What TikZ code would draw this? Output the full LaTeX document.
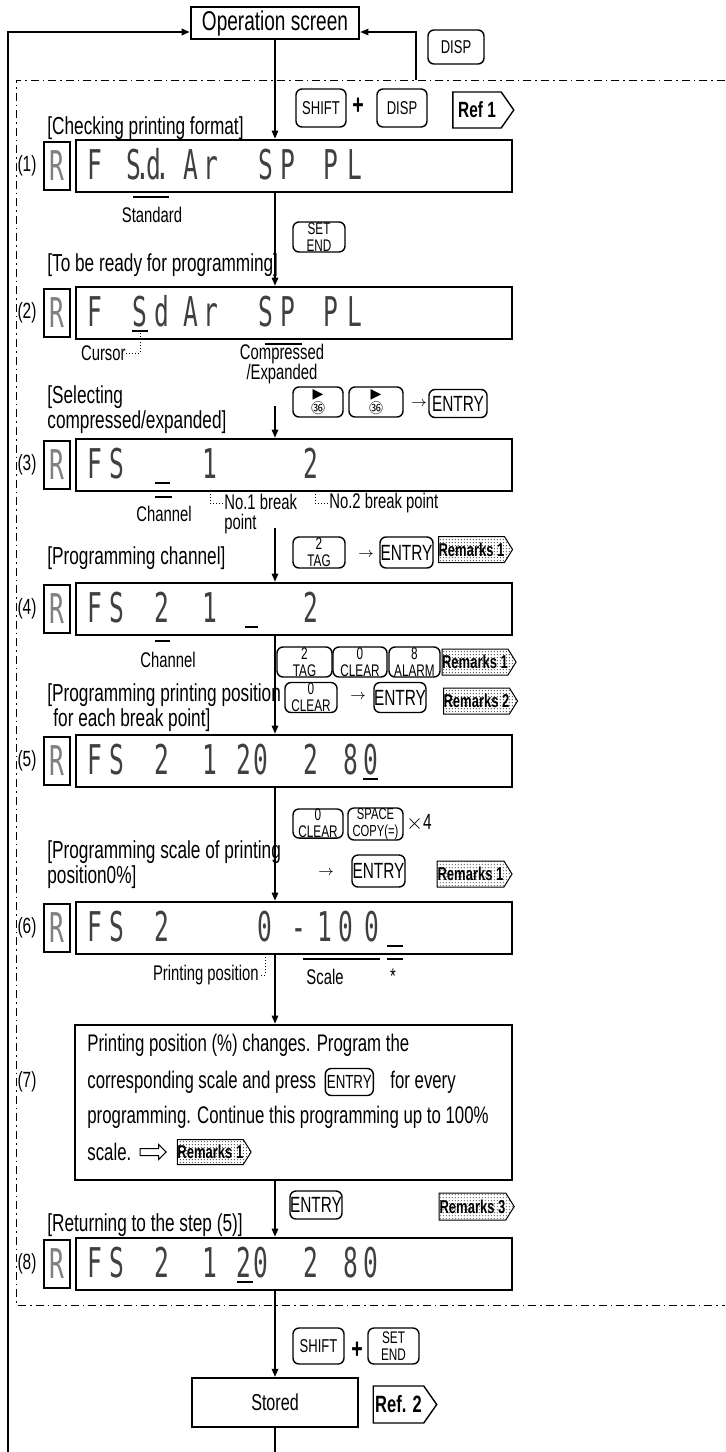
\documentclass[tikz,border=0pt]{standalone}
\usepackage{fontspec}
\setmainfont{Liberation Sans}[FakeStretch=0.7]
\newfontfamily\segfont{DejaVu Sans Mono}[FakeStretch=0.6]
\newfontfamily\symfont{DejaVu Sans}
\newfontfamily\cjk{Noto Sans CJK SC}
\usetikzlibrary{positioning,arrows.meta,shapes.symbols,shapes.arrows,patterns.meta}
\newcommand\fsz[1]{\fontsize{#1}{#1}\selectfont}
\tikzdeclarepattern{
  name=remdots,
  type=uncolored,
  bottom left={(0pt,0pt)},
  top right={(1.4pt,1.4pt)},
  tile size={(1.4pt,1.4pt)},
  code={\pgfpathcircle{\pgfpoint{0.7pt}{0.7pt}}{0.32pt}\pgfusepath{fill}}
}

\begin{document}
\begin{tikzpicture}[
    x=0.5pt, y=-0.5pt,
    flow/.style={line width=0.8pt, -{Triangle[length=4pt,width=3.2pt]}},
    opbox/.style={draw, line width=1.3pt, inner sep=0pt, font=\fsz{13.6}},
    lcdbox/.style={draw, line width=1.3pt, minimum width=218pt, minimum height=26pt},
    rbox/.style={draw, line width=0.6pt, minimum width=13pt, minimum height=24pt, inner sep=0pt, font=\segfont\fsz{20.5}, text=black!50},
    segch/.style={font=\segfont\fsz{20.5}, inner sep=0pt, anchor=base, text=black!75},
    keybox/.style={draw, rounded corners=3pt, line width=0.7pt, inner sep=0pt, align=center, font=\fsz{9.3}},
    twokey/.style={keybox, font=\fontsize{8.4}{8.6}\selectfont},
    entrykey/.style={keybox, font=\fsz{11}},
    thinarrow/.style={inner sep=0pt, font=\fsz{7.5}},
    refbox/.style={draw, signal, signal to=east, signal pointer angle=110, line width=0.7pt, inner sep=1pt, font=\bfseries\fsz{11}},
    rembox/.style={draw, signal, signal to=east, signal pointer angle=116, line width=0.5pt, inner sep=0pt, pattern=remdots, pattern color=black!70, minimum height=13pt, font=\bfseries\fsz{9.3}},
    steplbl/.style={anchor=west, align=left, inner sep=0pt, font=\fontsize{12.3}{12.5}\selectfont},
    numlbl/.style={font=\fsz{11}},
    smalllbl/.style={inner sep=0pt, align=center, font=\fontsize{10.6}{10}\selectfont},
    b7txt/.style={anchor=west, inner sep=0pt, font=\fsz{12}},
    barline/.style={line width=1.1pt},
    cursorbar/.style={line width=1.3pt},
    leader/.style={densely dotted, line width=0.5pt},
    frame/.style={line width=0.5pt, dash pattern=on 4pt off 2pt on 0.8pt off 2pt},
]
\useasboundingbox (0,0) rectangle (725,1452);

% top: operation screen and return paths
\node[opbox, minimum width=84pt, minimum height=16pt] (op) at (275,23) {Operation screen};
\node[keybox, minimum width=28pt, minimum height=17pt] (kdisp0) at (456,47) {DISP};
\coordinate (dispret) at (416,80);
\coordinate (loopbl) at (8,1452);
\draw[flow, line width=0.6pt] (dispret) |- ([yshift=-4.5pt]op.east);
\draw[flow, line width=1.3pt] (loopbl) |- ([yshift=-4.5pt]op.west);
\draw[frame] (725,80) -- (16,80) -- (16,1305) -- (725,1305);

% (1)
\node[keybox, minimum width=25pt, minimum height=19pt] (kshift1) at (321,108) {SHIFT};
\node[font=\bfseries\fsz{14}] (plus1) at (358,106) {+};
\node[keybox, minimum width=25pt, minimum height=19pt] (kdisp1) at (402,108) {DISP};
\node[refbox, minimum width=30.5pt, minimum height=18pt] (ref1) at (477,110) {Ref 1};
\node[steplbl] (t1) at (47,128) {[Checking printing format]};
\node[numlbl] (n1) at (27,166) {(1)};
\node[rbox] (r1) at (57,166) {R};
\node[lcdbox] (d1) at (294,166) {};
\foreach \cx/\ch [count=\i] in {95/F,134/S,143/.,154/d,163/.,191/A,211/r,266/S,288/P,331/P,355/L}
    \node[segch] (d1c\i) at (\cx,179) {\ch};
\draw[barline] (133,197) -- (169,197);
\node[smalllbl] (std) at (152,215) {Standard};
\draw[flow] (op.south) -- (op.south |- d1.north);

% (2)
\node[twokey, minimum width=26pt, minimum height=15pt] (kset2) at (319,237) {SET\\END};
\node[steplbl] (t2) at (47,265) {[To be ready for programming]};
\node[numlbl] (n2) at (27,313) {(2)};
\node[rbox] (r2) at (57,313) {R};
\node[lcdbox] (d2) at (294,313) {};
\foreach \cx/\ch [count=\i] in {95/F,140/S,162/d,191/A,211/r,266/S,288/P,331/P,355/L}
    \node[segch] (d2c\i) at (\cx,326) {\ch};
\draw[cursorbar] (132,331) -- (148,331);
\coordinate (cur2) at (140,333);
\node[smalllbl, anchor=east] (curlbl) at (126,353) {Cursor};
\draw[leader] (cur2) |- (curlbl.east);
\draw[barline] (265,344) -- (302,344);
\node[smalllbl] (cmp) at (282,364) {Compressed\\/Expanded};
\draw[flow] (op.south |- d1.south) -- (op.south |- d2.north);

% (3)
\node[steplbl] (t3) at (47,410) {[Selecting\\compressed/expanded]};
\node[keybox, minimum width=25pt, minimum height=15pt, font=\fontsize{7}{7.8}\selectfont] (k36a) at (318,402) {{\symfont ▶}\\{\cjk ㊱}};
\node[keybox, minimum width=27pt, minimum height=15pt, font=\fontsize{7}{7.8}\selectfont] (k36b) at (376,402) {{\symfont ▶}\\{\cjk ㊱}};
\node[thinarrow] (ar3) at (419,404) {$\rightarrow$};
\node[entrykey, minimum width=29pt, minimum height=14pt] (ke3) at (458,403.5) {ENTRY};
\node[numlbl] (n3) at (27,465) {(3)};
\node[rbox] (r3) at (57,465) {R};
\node[lcdbox] (d3) at (294,465) {};
\coordinate (c3) at (275,406);
\draw[flow] (c3) -- (c3 |- d3.north);
\foreach \cx/\ch [count=\i] in {95/F,117/S,210/1,311/2}
    \node[segch] (d3c\i) at (\cx,478) {\ch};
\draw[cursorbar] (155,483) -- (170,483);
\draw[barline] (155,497) -- (172,497);
\node[smalllbl] (ch3) at (164,514) {Channel};
\coordinate (bp1) at (210,491);
\coordinate (bp2) at (315,491);
\node[smalllbl, anchor=west, align=left] (bp1lbl) at (224,514) {No.1 break\\point};
\node[smalllbl, anchor=west] (bp2lbl) at (329,503) {No.2 break point};
\draw[leader] (bp1) |- ([yshift=5.5pt]bp1lbl.west);
\draw[leader] (bp2) |- (bp2lbl.west);

% (4)
\node[twokey, minimum width=26pt, minimum height=15.5pt] (kt4) at (319,552.5) {2\\TAG};
\node[thinarrow] (ar4) at (366,555) {$\rightarrow$};
\node[entrykey, minimum width=26.5pt, minimum height=15.5pt] (ke4) at (406.5,552.5) {ENTRY};
\node[rembox, minimum width=36.5pt] (rem4) at (471.5,549.5) {Remarks 1};
\node[steplbl] (t4) at (47,558) {[Programming channel]};
\node[numlbl] (n4) at (27,609) {(4)};
\node[rbox] (r4) at (57,609) {R};
\node[lcdbox] (d4) at (294,609) {};
\coordinate (c4) at (275,528);
\draw[flow] (c4) -- (c4 |- d4.north);
\foreach \cx/\ch [count=\i] in {95/F,117/S,162/2,210/1,311/2}
    \node[segch] (d4c\i) at (\cx,622) {\ch};
\draw[cursorbar] (245,627) -- (258,627);
\draw[barline] (155,641) -- (170,641);
\node[smalllbl] (ch4) at (168,660) {Channel};

% (5)
\node[twokey, minimum width=27.5pt, minimum height=15pt] (kt5) at (304.5,662) {2\\TAG};
\node[twokey, minimum width=27pt, minimum height=15pt] (kc5) at (360,662) {0\\CLEAR};
\node[twokey, minimum width=25.5pt, minimum height=15pt] (ka5) at (414.5,662) {8\\ALARM};
\node[rembox, minimum width=33pt] (rem5a) at (475,662) {Remarks 1};
\node[twokey, minimum width=26pt, minimum height=15pt] (kc5b) at (311,697.5) {0\\CLEAR};
\node[thinarrow] (ar5) at (358,697) {$\rightarrow$};
\node[entrykey, minimum width=25pt, minimum height=15pt] (ke5) at (400,697.5) {ENTRY};
\node[rembox, minimum width=33.5pt] (rem5b) at (476.5,701) {Remarks 2};
\node[steplbl] (t5) at (47,707.5) {[Programming printing position\\\hspace*{3pt}for each break point]};
\node[numlbl] (n5) at (27,761) {(5)};
\node[rbox] (r5) at (57,761) {R};
\node[lcdbox] (d5) at (294,761) {};
\draw[flow] (op.south |- d4.south) -- (op.south |- d5.north);
\foreach \cx/\ch [count=\i] in {95/F,117/S,162/2,210/1,244/2,261/0,311/2,351/8,371/0}
    \node[segch] (d5c\i) at (\cx,774) {\ch};
\draw[cursorbar] (363,779) -- (378,779);

% (6)
\node[twokey, minimum width=25pt, minimum height=14pt] (kc6) at (318,823.5) {0\\CLEAR};
\node[twokey, minimum width=27.5pt, minimum height=16pt, font=\fontsize{8}{8.4}\selectfont] (ks6) at (375.5,824) {SPACE\\COPY(=)};
\node[font=\fsz{11}] (x4) at (419,823) {$\times$4};
\node[thinarrow] (ar6) at (326,873) {$\rightarrow$};
\node[entrykey, minimum width=26.5pt, minimum height=16pt] (ke6) at (378.5,871) {ENTRY};
\node[rembox, minimum width=37.5pt] (rem6) at (470.5,874) {Remarks 1};
\node[steplbl] (t6) at (47,864.5) {[Programming scale of printing\\position0\%]};
\node[numlbl] (n6) at (27,928) {(6)};
\node[rbox] (r6) at (57,928) {R};
\node[lcdbox] (d6) at (294,928) {};
\draw[flow] (op.south |- d5.south) -- (op.south |- d6.north);
\foreach \cx/\ch [count=\i] in {95/F,117/S,162/2,265/0,299/-,325/1,346/0,372/0}
    \node[segch] (d6c\i) at (\cx,941) {\ch};
\draw[cursorbar] (387,946) -- (403,946);
\coordinate (pp6) at (265,954);
\node[smalllbl, anchor=east] (pplbl) at (259,975) {Printing position};
\draw[leader] (pp6) |- (pplbl.east);
\draw[barline] (303,959) -- (380,959);
\node[smalllbl] (scl) at (325,977) {Scale};
\draw[barline] (387,959) -- (403,959);
\node[smalllbl] (star6) at (393,976) {*};

% (7)
\node[draw, line width=1.3pt, minimum width=218.5pt, minimum height=77.5pt] (b7) at (293.5,1102.5) {};
\draw[flow] (op.south |- d6.south) -- (op.south |- b7.north);
\node[numlbl] (n7) at (27,1082) {(7)};
\node[b7txt] (l1) at (87,1045) {Printing position (\%) changes. Program the};
\node[b7txt] (l2a) at (87,1082) {corresponding scale and press};
\node[entrykey, minimum width=24pt, minimum height=13.5pt, font=\fsz{9.5}, right=4pt of l2a] (ke7) {ENTRY};
\node[b7txt, right=8pt of ke7] (l2b) {for every};
\node[b7txt] (l3) at (87,1117) {programming. Continue this programming up to 100\%};
\node[b7txt] (l4a) at (87,1152) {scale.};
\node[single arrow, draw, line width=0.5pt, fill=white, minimum height=13pt, minimum width=7pt, single arrow head extend=2pt, inner sep=1.5pt, right=4pt of l4a] (arr7) {};
\node[rembox, minimum width=35.5pt, minimum height=12.5pt, right=5pt of arr7] (rem7) {Remarks 1};

% (8)
\node[entrykey, minimum width=26pt, minimum height=14pt] (ke8) at (316,1205) {ENTRY};
\node[rembox, minimum width=37.5pt, minimum height=13.5pt] (rem8) at (472.5,1206.5) {Remarks 3};
\node[steplbl] (t8) at (47,1225) {[Returning to the step (5)]};
\node[numlbl] (n8) at (27,1264) {(8)};
\node[rbox] (r8) at (57,1264) {R};
\node[lcdbox] (d8) at (294,1264) {};
\draw[flow] (op.south |- b7.south) -- (op.south |- d8.north);
\foreach \cx/\ch [count=\i] in {95/F,117/S,162/2,210/1,244/2,261/0,311/2,351/8,371/0}
    \node[segch] (d8c\i) at (\cx,1277) {\ch};
\draw[cursorbar] (237,1282) -- (253,1282);

% store
\node[keybox, minimum width=25.5pt, minimum height=18pt] (ks9) at (318.5,1346) {SHIFT};
\node[font=\bfseries\fsz{14}] (plus9) at (357,1350) {+};
\node[twokey, minimum width=25.5pt, minimum height=18pt] (kset9) at (393.5,1346) {SET\\END};
\node[opbox, line width=1.1pt, minimum width=83pt, minimum height=24.5pt, font=\fsz{11.5}] (stored) at (275,1402.5) {Stored};
\node[refbox, minimum width=31.5pt, minimum height=18.5pt, font=\bfseries\fsz{11.8}] (ref2) at (398.5,1404.5) {Ref. 2};
\draw[flow] (op.south |- d8.south) -- (stored.north);
\coordinate (loopbr) at (275,1452);
\draw[line width=0.8pt] (stored.south) -- (loopbr);
\end{tikzpicture}
\end{document}
